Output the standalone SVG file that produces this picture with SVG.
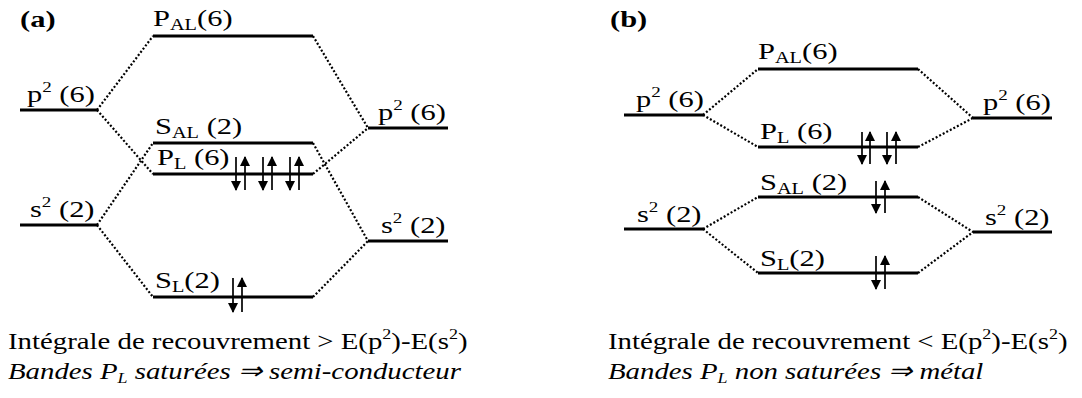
<svg xmlns="http://www.w3.org/2000/svg" width="1082" height="398" viewBox="0 0 1082 398">
<defs>
<style>
.t{font-size:24px}
.lvl{stroke:#000;stroke-width:2.8;fill:none}
.dot{stroke:#000;stroke-width:2.2;stroke-dasharray:2 2;fill:none}
.spin{stroke:#000;stroke-width:1.7;fill:none}
</style>
<marker id="ah" markerUnits="userSpaceOnUse" markerWidth="10" markerHeight="10" viewBox="0 0 10 10" refX="9" refY="5" orient="auto"><path d="M0,0 L10,5 L0,10 z" fill="#000"/></marker>
</defs>
<rect width="1082" height="398" fill="#fff"/>
<g font-family="Liberation Serif, Times New Roman, serif" fill="#000">
<text transform="translate(20,27) scale(1.27,1)" class="t" font-weight="bold">(a)</text>
<text transform="translate(610,27) scale(1.27,1)" class="t" font-weight="bold">(b)</text>

<g id="connectors">
<path class="dot" d="M97,110 L153,36 M97,110 L153,174 M97,225 L153,143 M97,225 L153,297 M313,36 L368,128 M313,174 L368,128 M313,143 L368,241 M313,297 L368,241"/>
<path class="dot" d="M703,115 L758,69 M703,115 L758,147 M703,229 L758,197 M703,229 L758,273 M918,69 L973,118 M918,147 L973,118 M918,197 L973,232 M918,273 L973,232"/>
</g>

<g id="a-p2-left"><line class="lvl" x1="20" y1="110" x2="97" y2="110"/><text transform="translate(27,102) scale(1.27,1)" class="t">p<tspan font-size="15" dy="-10">2</tspan><tspan dy="10"> (6)</tspan></text></g>
<g id="a-s2-left"><line class="lvl" x1="20" y1="225" x2="97" y2="225"/><text transform="translate(30,217) scale(1.27,1)" class="t">s<tspan font-size="15" dy="-10">2</tspan><tspan dy="10"> (2)</tspan></text></g>
<g id="a-PAL"><line class="lvl" x1="153" y1="36" x2="313" y2="36"/><text transform="translate(153,26) scale(1.27,1)" class="t">P<tspan font-size="16" dy="4">AL</tspan><tspan dy="-4">(6)</tspan></text></g>
<g id="a-SAL"><line class="lvl" x1="153" y1="143" x2="313" y2="143"/><text transform="translate(155,134) scale(1.27,1)" class="t">S<tspan font-size="16" dy="4">AL</tspan><tspan dy="-4"> (2)</tspan></text></g>
<g id="a-PL"><line class="lvl" x1="153" y1="174" x2="313" y2="174"/><text transform="translate(157,165) scale(1.27,1)" class="t">P<tspan font-size="16" dy="4">L</tspan><tspan dy="-4"> (6)</tspan></text>
<line class="spin" x1="236" y1="157" x2="236" y2="190" marker-end="url(#ah)"/><line class="spin" x1="245" y1="190" x2="245" y2="157" marker-end="url(#ah)"/>
<line class="spin" x1="263" y1="157" x2="263" y2="190" marker-end="url(#ah)"/><line class="spin" x1="272" y1="190" x2="272" y2="157" marker-end="url(#ah)"/>
<line class="spin" x1="290" y1="157" x2="290" y2="190" marker-end="url(#ah)"/><line class="spin" x1="299" y1="190" x2="299" y2="157" marker-end="url(#ah)"/></g>
<g id="a-SL"><line class="lvl" x1="153" y1="297" x2="313" y2="297"/><text transform="translate(155,288) scale(1.27,1)" class="t">S<tspan font-size="16" dy="4">L</tspan><tspan dy="-4">(2)</tspan></text>
<line class="spin" x1="233" y1="278" x2="233" y2="312" marker-end="url(#ah)"/><line class="spin" x1="242" y1="312" x2="242" y2="278" marker-end="url(#ah)"/></g>
<g id="a-p2-right"><line class="lvl" x1="368" y1="128" x2="448" y2="128"/><text transform="translate(378,120) scale(1.27,1)" class="t">p<tspan font-size="15" dy="-10">2</tspan><tspan dy="10"> (6)</tspan></text></g>
<g id="a-s2-right"><line class="lvl" x1="368" y1="241" x2="448" y2="241"/><text transform="translate(381,233) scale(1.27,1)" class="t">s<tspan font-size="15" dy="-10">2</tspan><tspan dy="10"> (2)</tspan></text></g>

<g id="b-p2-left"><line class="lvl" x1="624" y1="115" x2="703" y2="115"/><text transform="translate(636,107) scale(1.27,1)" class="t">p<tspan font-size="15" dy="-10">2</tspan><tspan dy="10"> (6)</tspan></text></g>
<g id="b-s2-left"><line class="lvl" x1="624" y1="229" x2="703" y2="229"/><text transform="translate(637,222) scale(1.27,1)" class="t">s<tspan font-size="15" dy="-10">2</tspan><tspan dy="10"> (2)</tspan></text></g>
<g id="b-PAL"><line class="lvl" x1="758" y1="69" x2="918" y2="69"/><text transform="translate(758,59) scale(1.27,1)" class="t">P<tspan font-size="16" dy="4">AL</tspan><tspan dy="-4">(6)</tspan></text></g>
<g id="b-PL"><line class="lvl" x1="758" y1="147" x2="918" y2="147"/><text transform="translate(760,139) scale(1.27,1)" class="t">P<tspan font-size="16" dy="4">L</tspan><tspan dy="-4"> (6)</tspan></text>
<line class="spin" x1="862" y1="132" x2="862" y2="164" marker-end="url(#ah)"/><line class="spin" x1="870" y1="164" x2="870" y2="132" marker-end="url(#ah)"/>
<line class="spin" x1="887" y1="132" x2="887" y2="164" marker-end="url(#ah)"/><line class="spin" x1="896" y1="164" x2="896" y2="132" marker-end="url(#ah)"/></g>
<g id="b-SAL"><line class="lvl" x1="758" y1="197" x2="918" y2="197"/><text transform="translate(760,190) scale(1.27,1)" class="t">S<tspan font-size="16" dy="4">AL</tspan><tspan dy="-4"> (2)</tspan></text>
<line class="spin" x1="876" y1="181" x2="876" y2="213" marker-end="url(#ah)"/><line class="spin" x1="885" y1="213" x2="885" y2="181" marker-end="url(#ah)"/></g>
<g id="b-SL"><line class="lvl" x1="758" y1="273" x2="918" y2="273"/><text transform="translate(760,266) scale(1.27,1)" class="t">S<tspan font-size="16" dy="4">L</tspan><tspan dy="-4">(2)</tspan></text>
<line class="spin" x1="876" y1="256" x2="876" y2="289" marker-end="url(#ah)"/><line class="spin" x1="885" y1="289" x2="885" y2="256" marker-end="url(#ah)"/></g>
<g id="b-p2-right"><line class="lvl" x1="973" y1="118" x2="1052" y2="118"/><text transform="translate(983,110) scale(1.27,1)" class="t">p<tspan font-size="15" dy="-10">2</tspan><tspan dy="10"> (6)</tspan></text></g>
<g id="b-s2-right"><line class="lvl" x1="973" y1="232" x2="1052" y2="232"/><text transform="translate(985,225) scale(1.27,1)" class="t">s<tspan font-size="15" dy="-10">2</tspan><tspan dy="10"> (2)</tspan></text></g>

<g id="caption-a">
<text transform="translate(8,349) scale(1.2,1)" class="t">Intégrale de recouvrement &gt; E(p<tspan font-size="15" dy="-10">2</tspan><tspan dy="10">)-E(s</tspan><tspan font-size="15" dy="-10">2</tspan><tspan dy="10">)</tspan></text>
<text transform="translate(8,379) scale(1.2,1)" class="t" font-style="italic">Bandes P<tspan font-size="15" dy="4">L</tspan><tspan dy="-4"> saturées ⇒ semi-conducteur</tspan></text>
</g>
<g id="caption-b">
<text transform="translate(608,349) scale(1.2,1)" class="t">Intégrale de recouvrement &lt; E(p<tspan font-size="15" dy="-10">2</tspan><tspan dy="10">)-E(s</tspan><tspan font-size="15" dy="-10">2</tspan><tspan dy="10">)</tspan></text>
<text transform="translate(608,379) scale(1.2,1)" class="t" font-style="italic">Bandes P<tspan font-size="15" dy="4">L</tspan><tspan dy="-4"> non saturées ⇒ métal</tspan></text>
</g>
</g>
</svg>
